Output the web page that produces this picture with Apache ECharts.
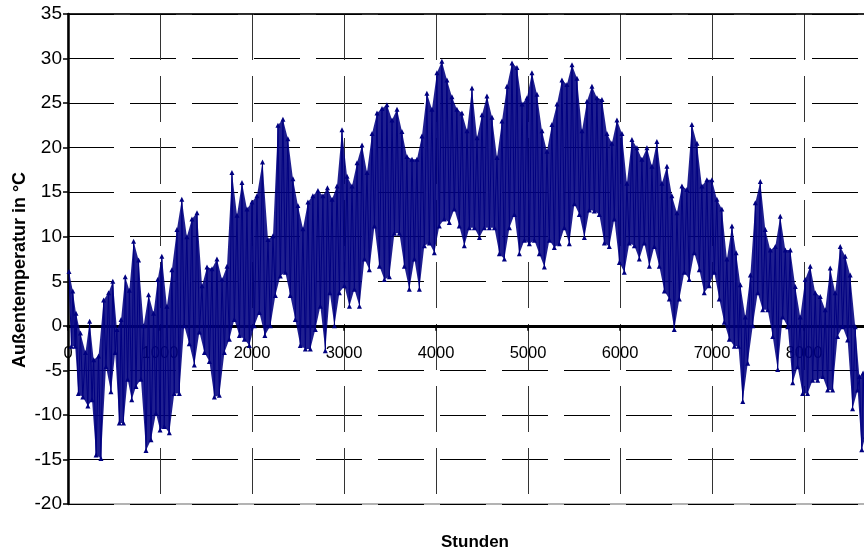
<!DOCTYPE html>
<html><head><meta charset="utf-8">
<script src="https://cdn.jsdelivr.net/npm/echarts@6/dist/echarts.min.js"></script>
<style>html,body{margin:0;padding:0;background:#fff}#c{width:864px;height:551px}</style>
</head><body><div id="c"></div>
<script>
// Hour at the middle of each segment
const segmentHours = [
  24,65,100,148,203,248,292,345,400,454,
  500,545,590,635,680,726,780,835,889,943,
  988,1033,1088,1142,1197,1250,1305,1360,1415,1470,
  1524,1578,1632,1687,1741,1795,1850,1904,1958,2012,
  2067,2127,2187,2241,2295,2349,2403,2458,2512,2567,
  2621,2675,2730,2784,2833,2883,2937,2991,3046,3100,
  3155,3209,3263,3318,3372,3426,3480,3535,3589,3643,
  3697,3752,3806,3860,3914,3969,4023,4077,4132,4186,
  4240,4295,4350,4404,4459,4513,4567,4622,4676,4730,
  4785,4839,4893,4948,5002,5056,5110,5165,5219,5273,
  5328,5382,5436,5491,5545,5600,5654,5708,5762,5817,
  5871,5925,5980,6034,6088,6143,6197,6251,6306,6360,
  6414,6469,6523,6577,6632,6686,6740,6794,6849,6903,
  6957,7012,7066,7120,7175,7230,7275,7321,7375,7430,
  7484,7538,7592,7647,7701,7755,7810,7864,7918,7972,
  8026,8081,8135,8190,8244,8298,8352,8407,8461,8515,
  8570,8615,8655,8718
];
// Highest temperature in each segment (°C)
const segmentHigh = [
  6.1,3.9,1.4,-0.8,-3,0.5,-3.8,-3.4,2.9,3.7,
  5,-0.4,0.7,5.5,4,9.5,7.4,0,3.5,1.4,
  5.2,7.8,2.2,6.3,10.8,14.2,10,12,12.7,4.5,
  6.6,6.4,7.5,5.2,6.7,17.2,12.4,16.1,13.1,13.9,
  14.6,18.4,9.7,10.1,22.5,23.2,21,16.5,13.5,10.9,
  13.9,14.6,15.2,14.6,15.5,14.2,15.7,22,16.8,15.7,
  18.3,20.3,17.2,21.6,23.9,24.4,24.8,23.1,24.3,21.8,
  19,18.7,18.7,21.3,26.1,24.3,28.4,29.7,27.6,25.7,
  24.3,23.9,21.9,26.7,21.1,23.7,25.8,23.4,18.9,23,
  26.9,29.5,29,24.9,25.6,28.4,26,21.9,19.6,22.6,
  24.9,27.6,27.1,29.3,27.8,21.9,25.2,26.9,25.6,25.4,
  21.6,20.5,23.1,21.6,16,20.9,20,18.7,20,17.9,
  20.7,16,17.9,14.6,12.7,15.7,15.3,22.6,20.5,15.7,
  16.4,16.4,14.2,13.1,7.5,11.2,8.2,4.6,1,5.7,
  13.8,16.2,10.8,8.5,8.9,12.3,8.5,8.5,4.4,1,
  5.2,6.7,3.7,3.3,1.8,6.5,3.7,8.9,7.8,5.7,
  -0.1,-5.7,-5.3,-5
];
// Lowest temperature in each segment (°C)
const segmentLow = [
  -2.3,-2.3,-7.6,-8,-9,-8.3,-14.5,-14.9,-4.6,-7.4,
  -3,-10.9,-10.9,-6,-8.3,-6.8,-6,-14,-12.8,-9.8,
  -11.7,-11.3,-12,-7.6,-7.6,0,-2,-4.4,-0.7,-3,
  -4,-8,-7.8,-3,-1.5,0.7,-1.1,-1.5,-2.2,0,
  1.5,-1.1,0,3.4,5.6,6,3.4,0.7,-2.2,-2.6,
  -2.6,-0.4,2.2,-2.8,3.7,0,3.7,4.5,2.2,4.1,
  2.2,7.5,6.3,11.2,6.7,5.2,5.5,10.4,10.4,6.7,
  4.1,7.5,4.1,9,9.3,8.2,11.2,12,11.6,13.1,
  11.2,9,11,11,9.9,11,11,11,8.1,7.5,
  11,12.5,8.1,9.6,9.2,9.6,8.1,6.6,9.6,8.8,
  9.2,11,9.2,13.7,12.5,9.9,13,12.9,12.5,9.3,
  8.9,12,7.1,6,9.3,9,7.5,9.3,6.7,8.9,
  6.7,3.9,3,-0.4,3,6,5.2,8.2,6.3,3.7,
  4.5,6,3,0.4,-1.5,-2.3,-2.3,-8.5,-4.2,0,
  3.7,1.8,1.8,-1.2,-4.9,1,-0.1,-6.4,-4.6,-7.6,
  -7.6,-6.1,-6.1,-5.7,-7.2,-7.2,-1.2,-0.1,-1.6,-9.3,
  -7.2,-13.9,-12.4,-8
];
const xTickValues = [0,1000,2000,3000,4000,5000,6000,7000,8000];
const yTickValues = [-20,-15,-10,-5,0,5,10,15,20,25,30,35];

const HALF = 13; // hours between the segment middle and its high / low point
const points = [];
segmentHours.forEach((h, i) => {
  points.push([h - HALF, segmentHigh[i]]);
  points.push([h + HALF, segmentLow[i]]);
});

const W = 864, H = 551;
const gridLeft = 68, gridTop = 14, gridBottom = 47;
const pxPerHour = 0.092;
const xMax = 9000;
const gridRight = W - gridLeft - xMax * pxPerHour;
const yMin = yTickValues[0], yMax = yTickValues[yTickValues.length - 1];
const plotH = H - gridTop - gridBottom;
const zeroOffset = -((0 - yMin) / (yMax - yMin)) * plotH;

const chart = echarts.init(document.getElementById('c'), null, {renderer: 'canvas', width: W, height: H});
const dash = [46, 16];
chart.setOption({
  animation: false,
  backgroundColor: '#fff',
  grid: {left: gridLeft, top: gridTop, bottom: gridBottom, right: gridRight, containLabel: false,
    outerBoundsMode: 'none',
    show: true, borderColor: '#9a9a9a', borderWidth: 1.5, backgroundColor: 'transparent'},
  title: {text: 'Stunden', left: 436, top: 529,
    textStyle: {fontFamily: 'Liberation Sans, Arial', fontWeight: 'bold', fontSize: 17, color: '#000'}},
  graphic: [{
    type: 'text', x: 20, y: 270, rotation: Math.PI / 2, silent: true,
    style: {text: 'Außentemperatur in °C', fill: '#000', align: 'center', verticalAlign: 'middle',
      font: 'bold 18px "Liberation Sans", Arial'}
  }],
  xAxis: [{
    type: 'value', min: xTickValues[0], max: xMax, interval: 1000,
    offset: zeroOffset,
    axisLine: {show: true, onZero: false, lineStyle: {color: '#000', width: 3}},
    axisTick: {show: true, length: 5, lineStyle: {color: '#000', width: 1.5}},
    axisLabel: {fontSize: 16.5, color: '#000', margin: 19, showMaxLabel: false,
      fontFamily: 'Liberation Sans, Arial', formatter: v => String(v)},
    splitLine: {show: true, lineStyle: {color: '#333', width: 1, type: dash}}
  }, {
    type: 'value', min: 0, max: xMax, position: 'top',
    axisLine: {show: true, onZero: false, lineStyle: {color: '#000', width: 1.5}},
    axisTick: {show: false}, axisLabel: {show: false}, splitLine: {show: false}
  }],
  yAxis: {
    type: 'value', min: yMin, max: yMax, interval: 5,
    axisLine: {show: true, onZero: false, lineStyle: {color: '#000', width: 2.5}},
    axisTick: {show: true, length: 5, lineStyle: {color: '#000', width: 1.5}},
    axisLabel: {fontSize: 19, color: '#000', margin: 6, fontFamily: 'Liberation Sans, Arial'},
    splitLine: {show: true, lineStyle: {color: '#000', width: 1, type: dash}}
  },
  series: [{
    type: 'custom',
    xAxisIndex: 0,
    data: [[segmentHours[0], segmentHigh[0]]],
    clip: true,
    z: 2,
    renderItem: (params, api) => {
      const pts = [];
      segmentHours.forEach((h, i) => pts.push(api.coord([h - HALF, segmentHigh[i]])));
      for (let i = segmentHours.length - 1; i >= 0; i--) pts.push(api.coord([segmentHours[i] + HALF, segmentLow[i]]));
      return {type: 'polygon', shape: {points: pts}, style: {fill: '#000080', opacity: 0.88}};
    }
  }, {
    type: 'line', data: points, xAxisIndex: 0, z: 3,
    lineStyle: {color: '#000080', width: 1},
    itemStyle: {color: '#000080'},
    symbol: 'triangle', symbolSize: 5, showSymbol: true, showAllSymbol: true,
    clip: true
  }]
});
</script></body></html>
